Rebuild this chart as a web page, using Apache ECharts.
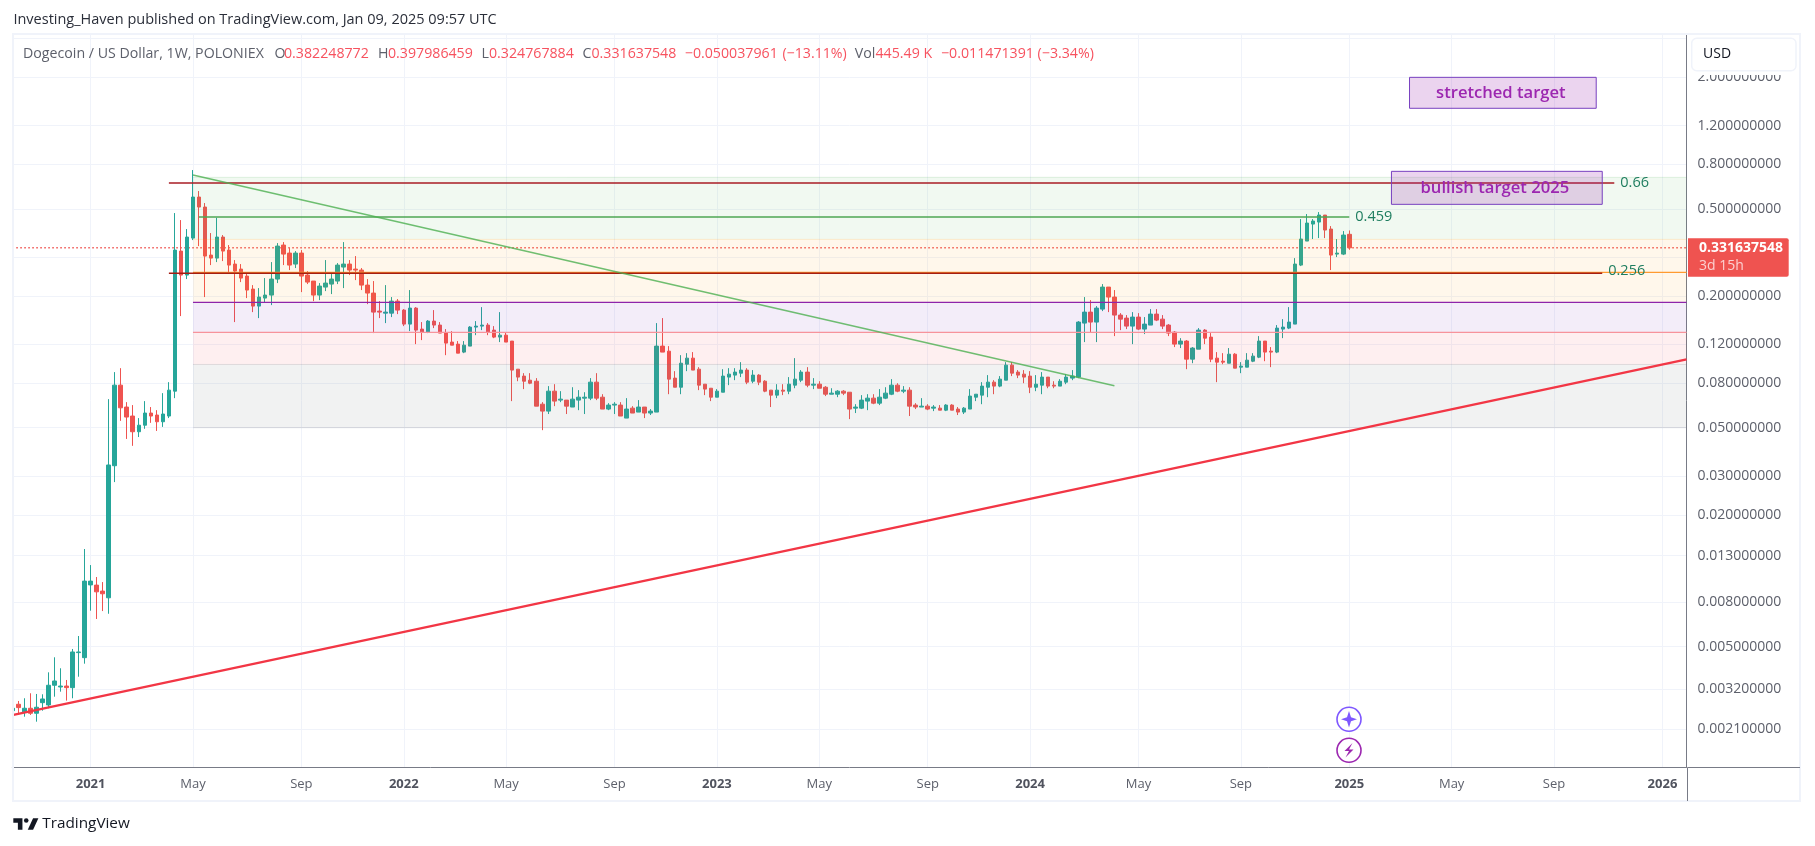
<!DOCTYPE html>
<html>
<head>
<meta charset="utf-8">
<title>Dogecoin / US Dollar</title>
<script src="https://cdn.jsdelivr.net/npm/echarts@6/dist/echarts.min.js"></script>
<style>
  html, body { margin: 0; padding: 0; background: #fff; }
  #chart { width: 1815px; height: 846px; }
</style>
</head>
<body>
<div id="chart"></div>
<script>
// weekly candles, oldest first, the first week is 2020-10-05
const opens = [
  .002546,.002724,.002515,.002612,.002478,.00277,.002704,.003327,.003267,.0033,
  .003244,.00469,.004448,.00956,.00954,.00896,.00835,.0335,.0782,.0621,
  .0565,.0479,.0513,.0583,.0571,.0532,.0565,.0734,.3204,.2489,
  .3674,.5657,.5092,.3072,.2976,.3713,.3238,.2795,.2651,.2463,
  .2148,.1796,.1954,.2017,.2387,.3413,.3137,.2795,.3137,.2489,
  .2337,.2017,.2194,.2264,.2337,.2708,.2795,.2651,.2624,.224,
  .206,.1704,.1668,.1668,.1893,.1722,.1486,.1759,.141,.1366,
  .1534,.1471,.1352,.123,.1204,.1107,.1179,.144,.1455,.1471,
  .1395,.1296,.1323,.1243,.0925,.086,.0824,.0815,.064,.0595,
  .0734,.0668,.0668,.0621,.0668,.0682,.0682,.0807,.0689,.0608,
  .0634,.0634,.0553,.0614,.0589,.0621,.0583,.0589,.1179,.1118,
  .0842,.0765,.0975,.1039,.0925,.079,.0757,.0689,.0726,.0851,
  .0869,.0887,.0916,.0815,.0869,.0815,.0742,.0704,.0742,.0734,
  .0782,.0824,.0897,.0782,.079,.0765,.0711,.0711,.0734,.0726,
  .0614,.0614,.0661,.0682,.0647,.0682,.0711,.0782,.0734,.0742,
  .0634,.0621,.0627,.0614,.0614,.0601,.0634,.0608,.0589,.0608,
  .0689,.0704,.0765,.0807,.0774,.0824,.0965,.0897,.0878,.086,
  .0765,.0782,.0851,.0782,.0774,.0807,.0842,.0851,.1502,.1686,
  .1518,.174,.2194,.1975,.1634,.1583,.1455,.16,.141,.1471,
  .1651,.1566,.1471,.1366,.1204,.1243,.1028,.1142,.1395,.1296,
  .1039,.1006,.0985,.1083,.0945,.0945,.1006,.105,.1243,.1118,
  .1107,.141,.1425,.1486,.2765,.356,.4257,.4348,.468,.4039,
  .3104,.3104,.3822
];
const closes = [
  .002612,.00263,.002612,.002478,.00264,.00288,.003327,.00348,.0033,.003244,
  .004722,.004722,.00995,.00995,.00889,.00871,.03376,.0782,.0616,.0559,
  .0479,.0513,.0583,.0565,.0532,.0577,.0742,.3238,.2489,.3713,
  .5657,.5092,.304,.2976,.3713,.3204,.2765,.2596,.2412,.2126,
  .1796,.1975,.2017,.2387,.3377,.3104,.2765,.3137,.2463,.2312,
  .2017,.2217,.2288,.2387,.2765,.2795,.2624,.2624,.224,.206,
  .1686,.1686,.1686,.1893,.1722,.1486,.1759,.1395,.1366,.1534,
  .1471,.1352,.1217,.1191,.1095,.1191,.144,.1455,.1471,.1366,
  .1296,.1323,.123,.0916,.0851,.0815,.0798,.0627,.0595,.0734,
  .0661,.0675,.0627,.0675,.0689,.0689,.0807,.0682,.0608,.0634,
  .064,.0565,.0608,.0583,.0621,.0583,.0595,.1179,.1107,.0833,
  .0765,.0985,.1039,.0916,.0782,.075,.0689,.0734,.086,.0878,
  .0897,.0916,.0807,.0869,.0807,.0734,.0704,.0742,.0734,.079,
  .0833,.0897,.0782,.079,.0757,.0711,.0719,.0734,.0719,.0608,
  .0621,.0668,.0682,.0647,.0689,.0719,.0782,.0734,.0742,.0627,
  .0621,.0627,.0608,.0621,.0601,.0634,.0601,.0589,.0614,.0697,
  .0711,.0774,.0807,.0774,.0833,.0965,.0887,.0869,.0851,.0765,
  .079,.0851,.0774,.0774,.0815,.0851,.086,.1518,.1686,.1518,
  .1759,.2194,.1975,.1634,.1566,.1455,.16,.141,.1486,.1651,
  .155,.1455,.1352,.1204,.1243,.1028,.1155,.1395,.1282,.1028,
  .0996,.0996,.1083,.0935,.0955,.1017,.1061,.1243,.1107,.1107,
  .1425,.144,.1518,.2795,.3636,.4302,.4394,.468,.3997,.3072,
  .3137,.3792,.3316
];
const lows = [
  .00253,.002478,.00239,.002434,.002268,.002546,.002612,.00295,.00311,.00283,
  .002902,.00364,.004175,.00729,.00668,.00726,.00706,.0282,.0537,.0444,
  .0413,.0453,.0494,.0526,.0483,.0504,.0553,.0682,.1617,.2387,
  .3597,.3377,.1975,.2765,.2854,.2884,.2542,.1518,.2312,.1954,
  .1686,.1583,.1873,.1815,.2288,.2765,.2624,.268,.2081,.2264,
  .1893,.1913,.2103,.2038,.2264,.2171,.2489,.2361,.2126,.1834,
  .1352,.1583,.1502,.16,.1651,.1455,.1381,.1204,.1256,.1352,
  .1425,.1352,.1072,.1191,.1095,.1095,.1179,.1323,.1395,.1323,
  .1282,.123,.123,.0661,.0815,.075,.079,.0627,.0487,.0577,
  .0627,.0654,.0577,.0621,.0601,.0577,.0668,.0668,.0608,.0601,
  .0577,.0565,.0553,.0583,.0589,.0553,.0571,.0589,.1107,.0711,
  .0765,.0711,.0906,.0916,.0742,.0704,.0661,.0689,.0726,.0782,
  .0824,.0851,.079,.0798,.0782,.0726,.0621,.0682,.0704,.0711,
  .0757,.0807,.0765,.075,.0757,.0697,.0711,.0689,.0704,.0547,
  .0583,.0608,.0601,.064,.0634,.0675,.0704,.0726,.0719,.0565,
  .0608,.0621,.0601,.0595,.0601,.0595,.0601,.0571,.0577,.0608,
  .0661,.064,.0689,.0711,.0765,.0824,.086,.0842,.0798,.0719,
  .0734,.0711,.0757,.0757,.0774,.079,.0824,.0842,.123,.1366,
  .123,.1704,.1686,.131,.1395,.141,.1204,.1395,.1338,.1471,
  .1534,.141,.131,.1167,.1155,.0925,.0985,.1142,.1204,.0996,
  .0807,.0975,.0985,.0935,.0887,.0945,.0996,.1039,.1006,.0945,
  .1095,.1282,.141,.1486,.2736,.356,.3636,.3674,.3674,.2624,
  .3008,.3072,.3248
];
const highs = [
  .002625,.00282,.002902,.003058,.003036,.003025,.003812,.004465,.003978,.003517,
  .004873,.005586,.01395,.01178,.01039,.00985,.0675,.0897,.0935,.0654,
  .0634,.0553,.0661,.0621,.0601,.0719,.0807,.478,.444,.4039,
  .7516,.6025,.5311,.3873,.4548,.3792,.3413,.2915,.2795,.2516,
  .224,.2171,.2412,.2854,.3485,.3522,.3307,.3204,.3238,.2596,
  .2337,.2288,.2915,.2516,.2824,.3522,.2915,.304,.268,.2387,
  .2337,.1893,.224,.1975,.1934,.174,.2126,.1777,.1518,.155,
  .1722,.1518,.141,.1381,.1243,.1243,.1455,.1534,.1777,.1502,
  .1455,.1686,.1366,.1243,.0925,.0887,.0887,.0842,.0654,.0774,
  .079,.0734,.0668,.0765,.0742,.0726,.0842,.0887,.0711,.0647,
  .0654,.0654,.0682,.0627,.0668,.0621,.0608,.1502,.1583,.1179,
  .0906,.1072,.1095,.1107,.0945,.079,.0757,.075,.0925,.0935,
  .0935,.0996,.0935,.0916,.0878,.0824,.0742,.079,.079,.0851,
  .1039,.0916,.0945,.0842,.0815,.0774,.0757,.0742,.0742,.0726,
  .064,.0704,.0711,.0711,.075,.0765,.0833,.0798,.0774,.0765,
  .0647,.0682,.064,.0634,.0634,.064,.064,.0621,.0621,.075,
  .0711,.0807,.0869,.0824,.086,.0996,.0996,.0916,.0916,.0906,
  .0869,.0897,.0851,.0815,.0833,.0878,.0916,.1534,.1975,.1913,
  .1796,.2264,.2194,.2126,.1668,.1634,.1686,.1668,.16,.174,
  .174,.1634,.1486,.1381,.1282,.1256,.1167,.1425,.141,.1352,
  .1107,.1095,.1155,.1095,.0996,.1095,.1095,.131,.1243,.1167,
  .1471,.1566,.1777,.2976,.4487,.473,.4487,.483,.468,.4168,
  .3636,.3955,.398
];

// calendar, 279 weeks so the last slot sits at the right edge of the plot
const firstWeek = Date.UTC(2020, 9, 5);
const weeks = [];
for (let i = 0; i < 279; i++) {
  weeks.push(new Date(firstWeek + i * 7 * 864e5).toISOString().slice(0, 10));
}
const timeTickWeeks = [13, 30, 48, 65, 82, 100, 117, 134, 152, 169, 187, 204, 222, 239, 256, 274];
const timeTickNames = ['2021', 'May', 'Sep', '2022', 'May', 'Sep', '2023', 'May', 'Sep', '2024', 'May', 'Sep', '2025', 'May', 'Sep', '2026'];
const priceLabels = [2, 1.2, 0.8, 0.5, 0.2, 0.12, 0.08, 0.05, 0.03, 0.02, 0.013, 0.008, 0.005, 0.0032, 0.0021];
const priceGrid = [3, 2, 1.2, 0.8, 0.5, 0.3, 0.2, 0.12, 0.08, 0.05, 0.03, 0.02, 0.013, 0.008, 0.005, 0.0032, 0.0021];

// retracement bands
const zoneTops = [0.696, 0.3625, 0.1867, 0.1362, 0.0972];
const zoneBottoms = [0.3625, 0.1867, 0.1362, 0.0972, 0.05];
const zoneFills = ['rgba(76,175,80,.08)', 'rgba(255,152,0,.08)', 'rgba(124,50,190,.09)', 'rgba(242,54,69,.08)', 'rgba(120,132,126,.1)'];

// horizontal levels
const levelPrices = [0.696, 0.655, 0.459, 0.3625, 0.256, 0.2535, 0.1867, 0.1362, 0.0972, 0.05];
const levelStarts = [30, 26, 31, 30, 30, 26, 30, 30, 30, 30];
const levelEnds = [278, 266, 222, 278, 278, 264, 278, 278, 278, 278];
const levelColors = ['rgba(76,175,80,.15)', '#a81c24', '#4ea653', 'rgba(255,152,0,.15)', '#ff9a30', '#a51d12', '#8e24aa', '#f7939b', 'rgba(120,123,134,.2)', 'rgba(120,123,134,.2)'];
const levelWidths = [1, 1.5, 1.5, 1, 1.3, 1.5, 1.4, 1.4, 1, 1];

const noteWeeks = [267.3, 223.1, 265.2];
const notePrices = [0.66, 0.459, 0.26];
const noteTexts = ['0.66', '0.459', '0.256'];

// target boxes
const boxStarts = [232, 229];
const boxEnds = [263, 264];
const boxTops = [1.993, 0.7414];
const boxBottoms = [1.439, 0.5239];
const boxTexts = ['stretched target', 'bullish target 2025'];

const lastClose = 0.331637548;
const downTrend = [[30, 0.7131], [183, 0.0777]];
const supportTrend = [[0, 0.00243], [278, 0.1025]];

const legendBits = [
  [23, 'Dogecoin / US Dollar, 1W, POLONIEX', '#5d606b'],
  [274.4, 'O', '#5d606b'], [284, '0.382248772', '#f7525f'],
  [378, 'H', '#5d606b'], [388, '0.397986459', '#f7525f'],
  [481.4, 'L', '#5d606b'], [489, '0.324767884', '#f7525f'],
  [582.4, 'C', '#5d606b'], [591.5, '0.331637548', '#f7525f'],
  [684.8, '−0.050037961', '#f7525f'], [782.4, '(−13.11%)', '#f7525f'],
  [854.8, 'Vol', '#5d606b'], [875.5, '445.49 K', '#f7525f'],
  [941, '−0.011471391', '#f7525f'], [1037.6, '(−3.34%)', '#f7525f']
];

const UI_FONT = '"Open Sans", sans-serif';
const chart = echarts.init(document.getElementById('chart'));

function textEl(x, y, text, fill, font, extra) {
  return {
    type: 'text', x, y, z: 100, silent: true,
    style: Object.assign({ text, fill, font, verticalAlign: 'middle' }, extra || {})
  };
}

function renderZone(params, api) {
  const i = params.dataIndex;
  const a = api.coord([30, zoneTops[i]]);
  const b = api.coord([278, zoneBottoms[i]]);
  return { type: 'rect', shape: { x: a[0], y: a[1], width: b[0] - a[0], height: b[1] - a[1] }, style: { fill: zoneFills[i] } };
}

function renderLevel(params, api) {
  const i = params.dataIndex;
  const a = api.coord([levelStarts[i], levelPrices[i]]);
  const b = api.coord([levelEnds[i], levelPrices[i]]);
  return { type: 'line', shape: { x1: a[0], y1: a[1], x2: b[0], y2: b[1] }, style: { stroke: levelColors[i], lineWidth: levelWidths[i] } };
}

function renderNote(params, api) {
  const i = params.dataIndex;
  const a = api.coord([noteWeeks[i], notePrices[i]]);
  return { type: 'text', x: a[0], y: a[1], style: { text: noteTexts[i], fill: '#1e7d5f', font: '14.5px ' + UI_FONT, verticalAlign: 'middle' } };
}

function renderBox(params, api) {
  const i = params.dataIndex;
  const a = api.coord([boxStarts[i], boxTops[i]]);
  const b = api.coord([boxEnds[i], boxBottoms[i]]);
  return {
    type: 'group',
    children: [
      { type: 'rect', shape: { x: a[0], y: a[1], width: b[0] - a[0], height: b[1] - a[1] }, style: { fill: 'rgba(156,39,176,.2)', stroke: '#7840c0', lineWidth: 1 } },
      { type: 'text', x: (a[0] + b[0]) / 2 - 2, y: (a[1] + b[1]) / 2, style: { text: boxTexts[i], fill: '#9c27b0', font: '600 16.6px ' + UI_FONT, align: 'center', verticalAlign: 'middle' } }
    ]
  };
}

const option = {
  animation: false,
  backgroundColor: '#fff',
  grid: { left: 12.3, right: 128.45, top: 34, bottom: 79, containLabel: false },
  xAxis: {
    type: 'category',
    data: weeks,
    boundaryGap: false,
    axisLine: { lineStyle: { color: '#787b86', width: 1 } },
    axisTick: { show: false },
    splitLine: {
      show: true,
      interval: (idx) => timeTickWeeks.includes(idx),
      lineStyle: { color: '#f0f3fa', width: 1 }
    },
    axisLabel: {
      interval: (idx) => timeTickWeeks.includes(idx),
      margin: 11,
      color: '#5d606b',
      fontFamily: UI_FONT,
      fontSize: 13,
      formatter: (value, idx) => {
        const name = timeTickNames[timeTickWeeks.indexOf(idx)];
        return /^\d+$/.test(name) ? '{year|' + name + '}' : name;
      },
      rich: { year: { fontWeight: 'bold', color: '#50535e', fontFamily: UI_FONT, fontSize: 13 } }
    }
  },
  yAxis: {
    type: 'log',
    logBase: 10,
    position: 'right',
    min: 0.001408,
    max: 3.144,
    axisLine: { show: true, lineStyle: { color: '#787b86', width: 1 } },
    axisTick: { show: false, customValues: priceGrid },
    splitLine: { show: true, lineStyle: { color: '#f0f3fa', width: 1 } },
    minorSplitLine: { show: false },
    axisLabel: {
      customValues: priceLabels,
      margin: 11,
      color: '#5d606b',
      fontFamily: UI_FONT,
      fontSize: 14,
      formatter: (v) => Number(v).toFixed(9)
    }
  },
  series: [
    {
      type: 'line', z: 1, silent: true, showSymbol: false,
      data: [[0, lastClose], [278, lastClose]],
      lineStyle: { color: '#ef5350', width: 1.4, type: [1.5, 2.5] }
    },
    {
      type: 'candlestick',
      z: 2,
      barWidth: 4,
      clip: true,
      data: opens.map((o, i) => [o, closes[i], lows[i], highs[i]]),
      itemStyle: { color: '#26a69a', color0: '#ef5350', borderColor: '#26a69a', borderColor0: '#ef5350', borderWidth: 1 }
    },
    { type: 'custom', z: 3, silent: true, renderItem: renderZone, data: zoneTops.map((v, i) => [30, v]) },
    { type: 'custom', z: 4, silent: true, renderItem: renderLevel, data: levelPrices.map((v, i) => [levelStarts[i], v]) },
    {
      type: 'line', z: 5, silent: true, showSymbol: false, data: downTrend,
      lineStyle: { color: 'rgba(76,175,80,.8)', width: 1.5 }
    },
    {
      type: 'line', z: 5, silent: true, showSymbol: false, data: supportTrend,
      lineStyle: { color: '#f23645', width: 2.3 }
    },
    { type: 'custom', z: 6, silent: true, renderItem: renderBox, data: boxTops.map((v, i) => [boxStarts[i], v]) },
    { type: 'custom', z: 7, silent: true, renderItem: renderNote, data: notePrices.map((v, i) => [noteWeeks[i], v]) }
  ],
  graphic: {
    elements: [
      // the first candle is cut by the plot edge
      { type: 'rect', z: 50, silent: true, shape: { x: 0, y: 34, width: 12.5, height: 733 }, style: { fill: '#fff' } },
      // panel frame and extensions of the axis lines
      { type: 'rect', z: 51, silent: true, shape: { x: 13, y: 34, width: 1787, height: 767 }, style: { fill: 'none', stroke: '#f0f3fa', lineWidth: 2 } },
      { type: 'line', z: 52, silent: true, shape: { x1: 1687.5, y1: 767.5, x2: 1800, y2: 767.5 }, style: { stroke: '#787b86', lineWidth: 1 } },
      { type: 'line', z: 52, silent: true, shape: { x1: 1687.5, y1: 767.5, x2: 1687.5, y2: 801 }, style: { stroke: '#787b86', lineWidth: 1 } },

      textEl(13.4, 20, 'Investing_Haven published on TradingView.com, Jan 09, 2025 09:57 UTC', '#2a2e39', '14.5px ' + UI_FONT),
      ...legendBits.map(b => textEl(b[0], 54, b[1], b[2], '14.2px ' + UI_FONT)),

      // currency button, it hides the top of the first price label
      { type: 'rect', z: 99, silent: true, shape: { x: 1690, y: 36, width: 108, height: 39 }, style: { fill: '#fff' } },
      { type: 'rect', z: 100, silent: true, shape: { x: 1691.7, y: 38.3, width: 104.3, height: 32.4, r: 5 }, style: { fill: '#fff', stroke: '#f0f3fa', lineWidth: 1.5 } },
      textEl(1703, 54.5, 'USD', '#131722', '14px ' + UI_FONT),

      // last price tag
      { type: 'rect', z: 100, silent: true, shape: { x: 1688, y: 238.3, width: 100.7, height: 38.4, r: [0, 2, 2, 0] }, style: { fill: '#ef5350' } },
      textEl(1699, 248, '0.331637548', '#ffffff', 'bold 14px ' + UI_FONT),
      textEl(1699, 266.5, '3d 15h', '#fbd0d0', '14px ' + UI_FONT),

      // event markers on the 2025 week
      { type: 'circle', z: 100, silent: true, shape: { cx: 1349, cy: 719.3, r: 12 }, style: { fill: '#fff', stroke: '#7e57ff', lineWidth: 1.6 } },
      { type: 'polygon', z: 101, silent: true, shape: { points: [[1349, 711], [1351, 717.3], [1357, 719.3], [1351, 721.3], [1349, 727.6], [1347, 721.3], [1341, 719.3], [1347, 717.3]] }, style: { fill: '#7e57ff' } },
      { type: 'circle', z: 100, silent: true, shape: { cx: 1349, cy: 750.3, r: 12 }, style: { fill: '#fff', stroke: '#9c27b0', lineWidth: 1.6 } },
      { type: 'polygon', z: 101, silent: true, shape: { points: [[1352.5, 743], [1344.5, 751], [1349, 751], [1345.5, 757.5], [1353.5, 749.5], [1349, 749.5]] }, style: { fill: '#9c27b0' } },

      // TradingView logo and wordmark
      { type: 'polygon', z: 100, silent: true, x: 11.8, y: 813.7, scaleX: 0.76, scaleY: 0.76, shape: { points: [[14, 6], [2, 6], [2, 12], [8, 12], [8, 21], [14, 21]] }, style: { fill: '#131722' } },
      { type: 'polygon', z: 100, silent: true, x: 11.8, y: 813.7, scaleX: 0.76, scaleY: 0.76, shape: { points: [[28, 21], [21, 21], [28, 6], [35, 6]] }, style: { fill: '#131722' } },
      { type: 'circle', z: 100, silent: true, x: 11.8, y: 813.7, scaleX: 0.76, scaleY: 0.76, shape: { cx: 19, cy: 9, r: 3 }, style: { fill: '#131722' } },
      textEl(42.3, 824, 'TradingView', '#131722', '15.3px ' + UI_FONT)
    ]
  }
};

chart.setOption(option);
</script>
</body>
</html>
